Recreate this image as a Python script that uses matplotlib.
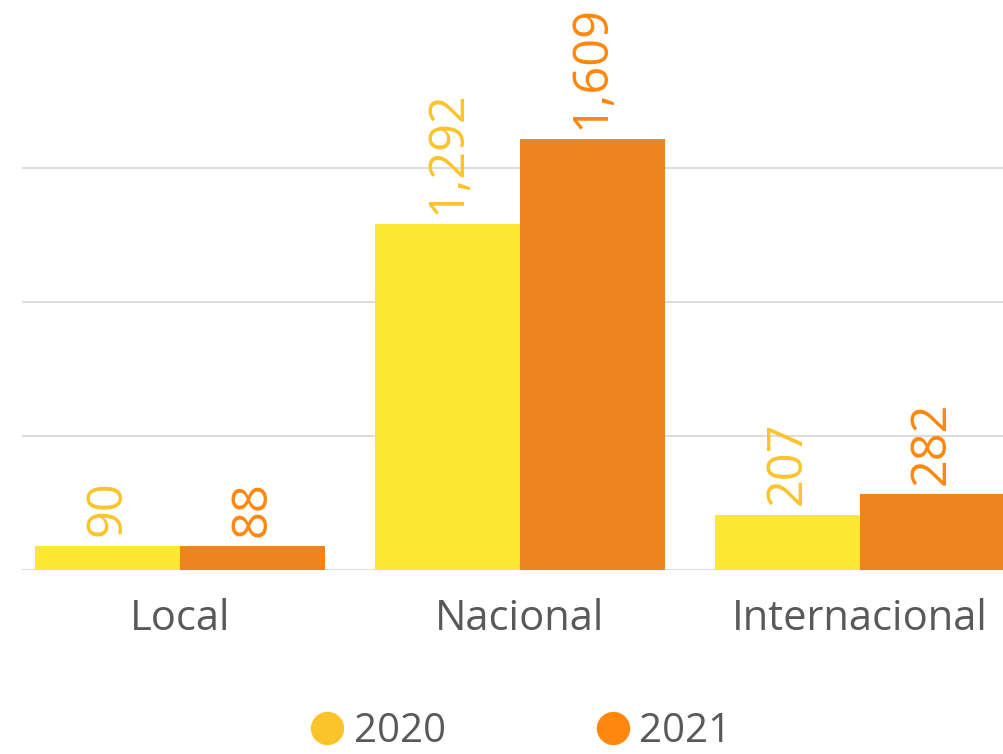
import numpy as np
import matplotlib.pyplot as plt
from matplotlib.lines import Line2D

plt.rcParams['font.family'] = ['Open Sans', 'DejaVu Sans']

categorias = ['Local', 'Nacional', 'Internacional']
anos = ['2020', '2021']
valores_2020 = [90, 1292, 207]
valores_2021 = [88, 1609, 282]

cor_barra = ['#FCE832', '#EF841E']
cor_rotulo = ['#FBC42B', '#FF870D']
cor_texto = '#595959'

fig = plt.figure(figsize=(10.04, 7.54), dpi=100)
ax = fig.add_axes([22 / 1004, 1 - 570 / 754, 1 - 22 / 1004, 570 / 754])

x = np.arange(len(categorias))
largura = 0.426

for serie, (vals, desloc) in enumerate([(valores_2020, -largura / 2), (valores_2021, largura / 2)]):
    barras = ax.bar(x + desloc, vals, width=largura, color=cor_barra[serie], zorder=2)
    for b, v in zip(barras, vals):
        ax.annotate(f'{v:,}', (b.get_x() + b.get_width() / 2, b.get_height()),
                    xytext=(0, 7), textcoords='offset points',
                    rotation=90, ha='center', va='bottom',
                    fontsize=35, color=cor_rotulo[serie], annotation_clip=False)

ax.set_xlim(-0.465, 2.424)
ax.set_ylim(0, 570 / 134 * 500)
ax.set_yticks([0, 500, 1000, 1500])
ax.yaxis.grid(True, color='#DDDDDD', linewidth=1.5, zorder=0)
ax.set_axisbelow(True)
ax.tick_params(axis='y', left=False, labelleft=False)
ax.tick_params(axis='x', bottom=False, pad=17, labelsize=30, labelcolor=cor_texto)
ax.set_xticks(x)
ax.set_xticklabels(categorias)
for s in ax.spines.values():
    s.set_visible(False)

# legenda com marcadores redondos
alcas = [Line2D([], [], marker='o', linestyle='', markersize=24,
                markerfacecolor=c, markeredgecolor='none')
         for c in ['#FBC42B', '#FF870D']]
fig.legend(alcas, anos, loc='center', bbox_to_anchor=(0.515, 0.029),
           ncol=2, frameon=False, fontsize=29, labelcolor=cor_texto,
           handletextpad=0.05, columnspacing=3.55, handlelength=1.2)

fig.savefig('out.png', dpi=100)
